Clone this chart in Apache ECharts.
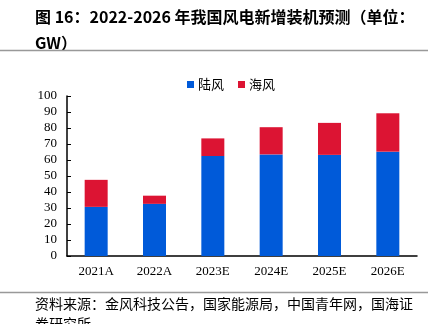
<!DOCTYPE html>
<html>
<head>
<meta charset="utf-8">
<script src="https://cdn.jsdelivr.net/npm/echarts@6/dist/echarts.min.js"></script>
<style>
  html, body { margin: 0; padding: 0; background: #fff; }
  #chart { width: 434px; height: 324px; }
</style>
</head>
<body>
<div id="chart"></div>
<script>
// 年份（A 为实际值，E 为预测值）
const categories = ['2021A', '2022A', '2023E', '2024E', '2025E', '2026E'];
// 陆上风电新增装机（GW）
const onshore = [30.7, 32.6, 62.5, 63.5, 63.2, 65.2];
// 海上风电新增装机（GW）
const offshore = [16.9, 5.1, 11.0, 17.0, 20.0, 24.0];
// 纵轴刻度
const yTicks = [0, 10, 20, 30, 40, 50, 60, 70, 80, 90, 100];

const titleText = '图 16：2022-2026 年我国风电新增装机预测（单位：\nGW）';
const sourceText = '资料来源：金风科技公告，国家能源局，中国青年网，国海证\n券研究所';

const chart = echarts.init(document.getElementById('chart'), null, { renderer: 'canvas' });

const serif = '"Liberation Serif", "Times New Roman", serif';
const cjk = '"Noto Sans CJK SC", sans-serif';

chart.setOption({
  animation: false,
  backgroundColor: '#fff',
  graphic: [
    {
      type: 'text', left: 35, top: 4,
      style: {
        text: titleText, fill: '#000',
        font: 'bold 16px "Noto Sans CJK SC", Arial, sans-serif',
        lineHeight: 26
      }
    },
    { type: 'line', shape: { x1: 0, y1: 50.5, x2: 428, y2: 50.5 }, style: { stroke: '#999', lineWidth: 1.5 } },
    { type: 'line', shape: { x1: 0, y1: 292.5, x2: 428, y2: 292.5 }, style: { stroke: '#999', lineWidth: 1.5 } },
    {
      type: 'text', left: 35, top: 294,
      style: { text: sourceText, fill: '#000', font: '14px ' + cjk, lineHeight: 20 }
    }
  ],
  legend: {
    top: 73, left: 182,
    itemWidth: 7, itemHeight: 7, itemGap: 14,
    icon: 'rect',
    textStyle: { fontFamily: cjk, fontSize: 13, color: '#000', padding: [0, 0, 0, -1] },
    data: ['陆风', '海风']
  },
  grid: { left: 67, right: 17, top: 96, bottom: 68 },
  xAxis: {
    type: 'category',
    data: categories,
    axisLine: { lineStyle: { color: '#000', width: 1.5 } },
    axisTick: { show: false },
    axisLabel: { fontFamily: serif, fontSize: 13, color: '#000', margin: 9 }
  },
  yAxis: {
    type: 'value',
    min: yTicks[0], max: yTicks[yTicks.length - 1], interval: yTicks[1] - yTicks[0],
    axisLine: { show: true, lineStyle: { color: '#000', width: 1.5 } },
    axisTick: { show: true, inside: true, length: 4, lineStyle: { color: '#000' } },
    splitLine: { show: false },
    axisLabel: { fontFamily: serif, fontSize: 13, color: '#000', margin: 10 }
  },
  series: [
    {
      name: '陆风', type: 'bar', stack: 'total', data: onshore,
      barWidth: 23, itemStyle: { color: '#005AD9' }
    },
    {
      name: '海风', type: 'bar', stack: 'total', data: offshore,
      barWidth: 23, itemStyle: { color: '#DC1433' }
    }
  ]
});
</script>
</body>
</html>
